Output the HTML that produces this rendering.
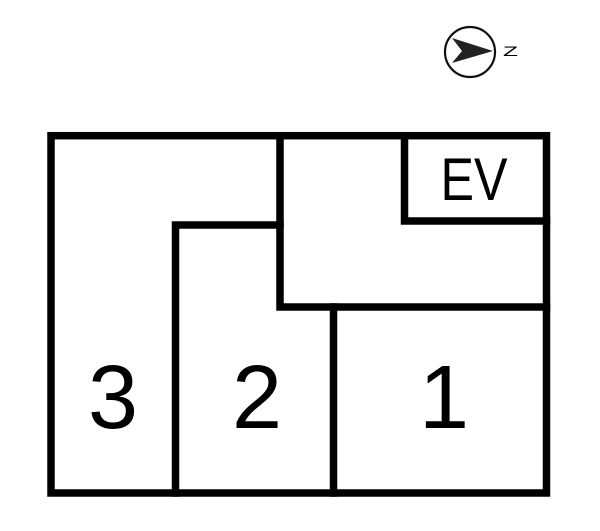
<!DOCTYPE html>
<html><head><style>
html,body{margin:0;padding:0;background:#fff;}
svg{display:block;}
text{font-family:"Liberation Sans",sans-serif;fill:#000;}
</style></head><body>
<svg width="600" height="531" viewBox="0 0 600 531">
<circle cx="470" cy="52" r="25" fill="none" stroke="#111" stroke-width="2.2"/>
<polygon points="452,38 493,51 452,63 462,51" fill="#222"/>
<text x="503" y="56" font-size="14" textLength="15" lengthAdjust="spacingAndGlyphs">Z</text>
<g fill="none" stroke="#000" stroke-width="7.5" stroke-linecap="square">
<rect x="51" y="135.7" width="495.5" height="357.3"/>
<polyline points="280,135.7 280,307 546.5,307"/>
<polyline points="404.5,135.7 404.5,221 546.5,221"/>
<polyline points="175.5,493 175.5,225 280,225"/>
<line x1="333.5" y1="307" x2="333.5" y2="493"/>
</g>
<text x="113" y="428" font-size="90" text-anchor="middle">3</text>
<text x="257" y="428" font-size="90" text-anchor="middle">2</text>
<text x="444" y="428" font-size="90" text-anchor="middle">1</text>
<text x="474" y="200" font-size="60" text-anchor="middle" textLength="67" lengthAdjust="spacingAndGlyphs">EV</text>
</svg>
</body></html>
